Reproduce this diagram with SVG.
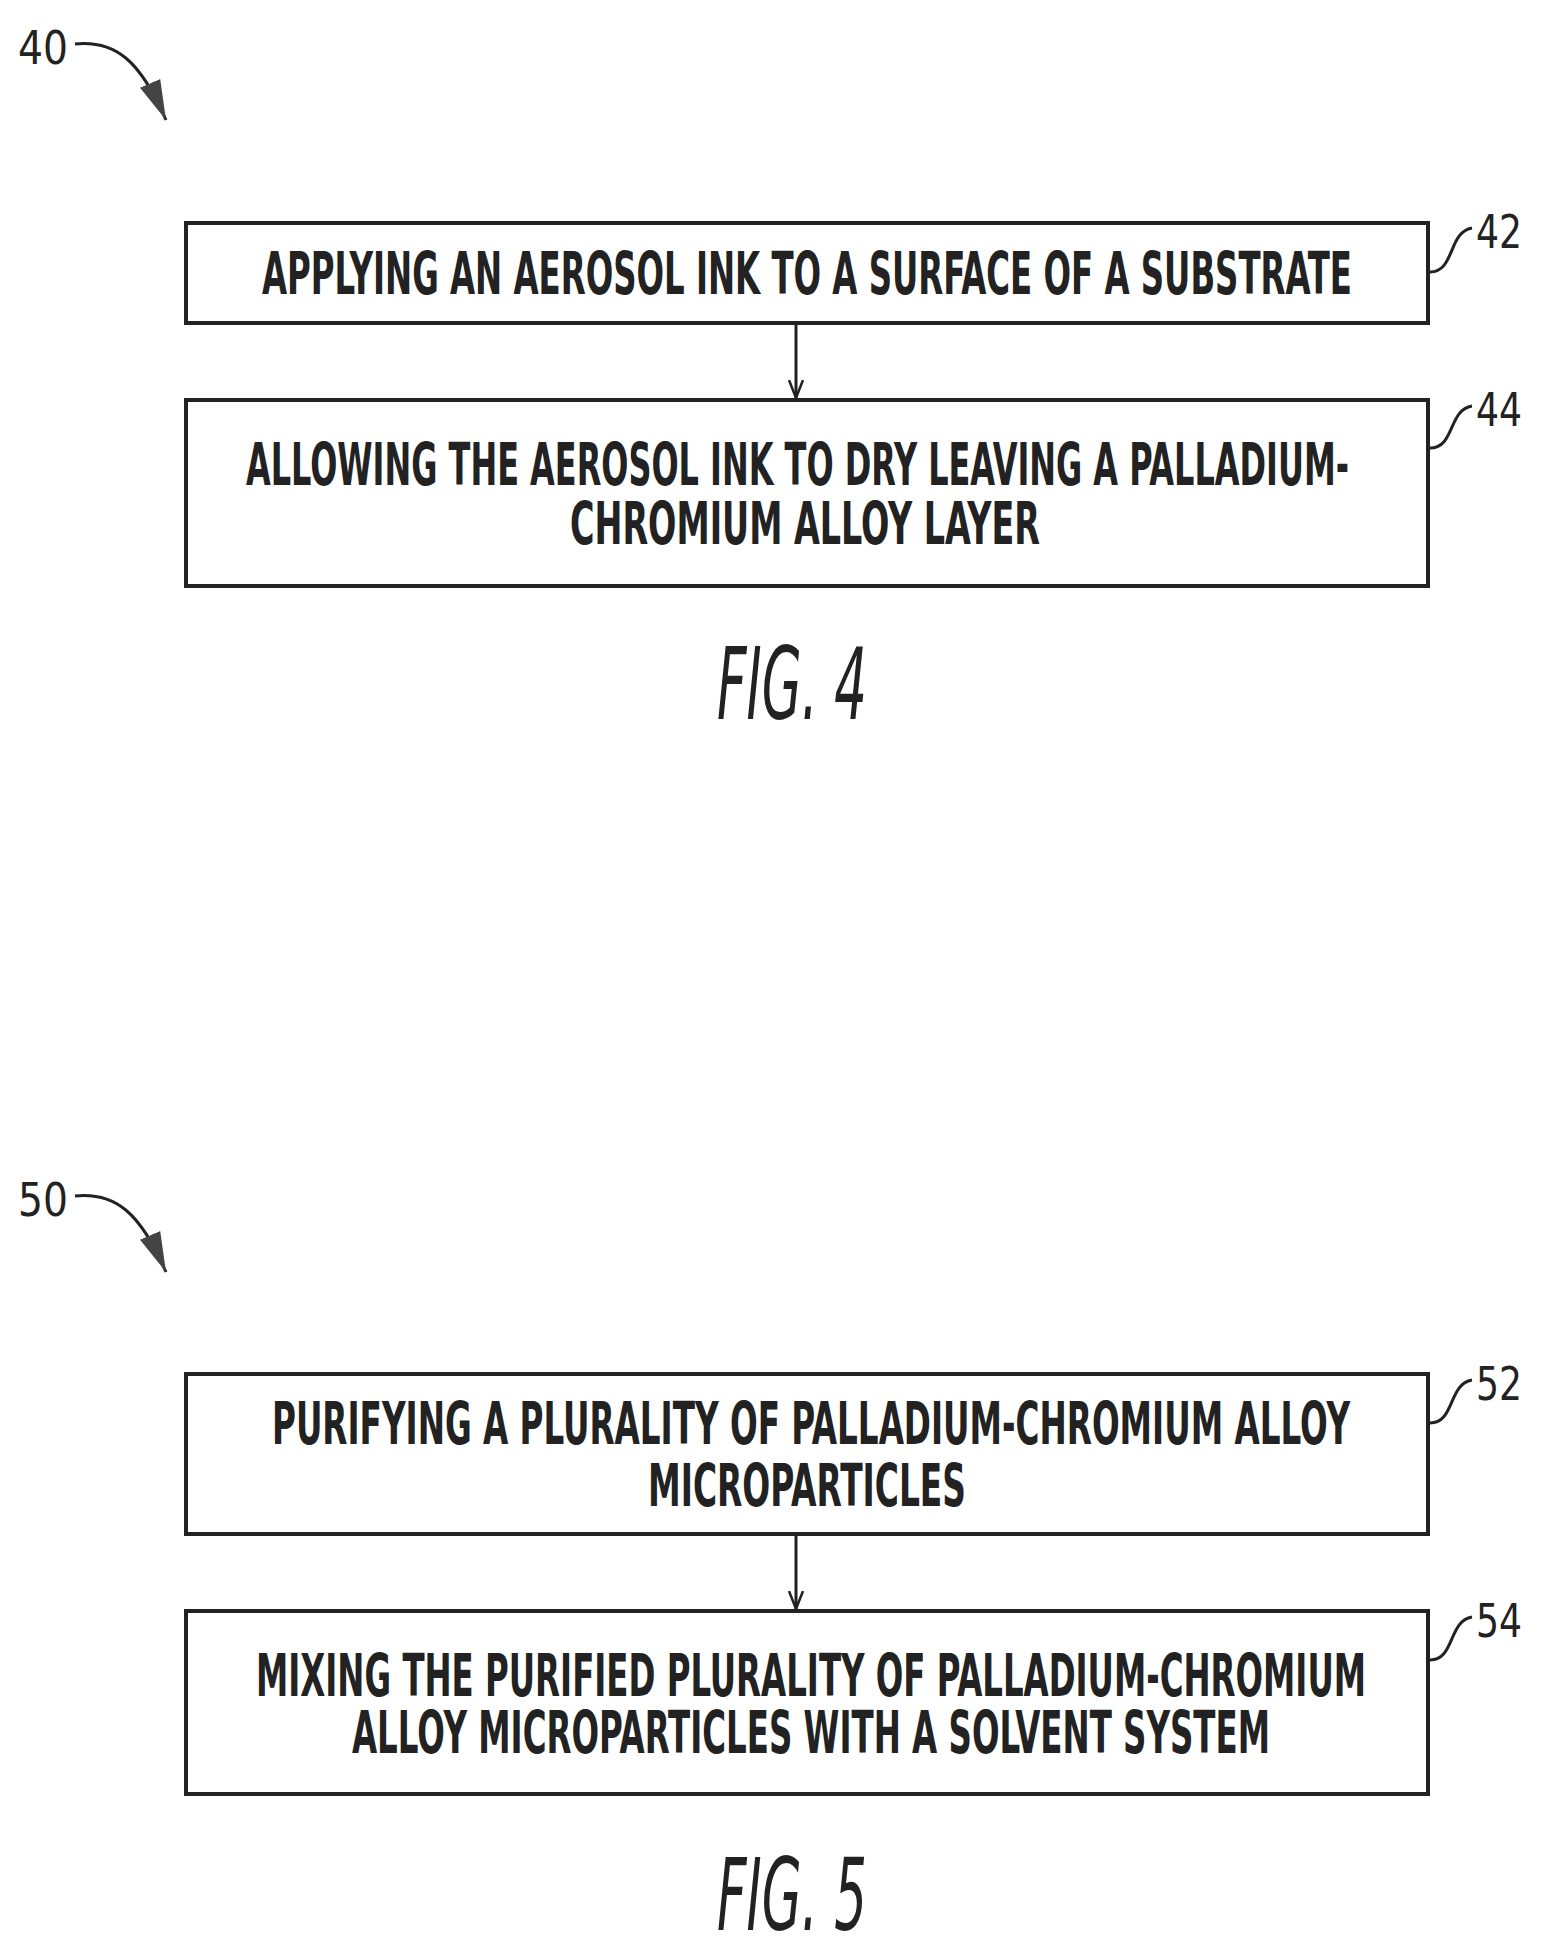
<svg xmlns="http://www.w3.org/2000/svg" width="1546" height="1949" viewBox="0 0 1546 1949">
<style>
.box{fill:none;stroke:#222;stroke-width:4}
.t{font-family:"DejaVu Sans Condensed","DejaVu Sans",sans-serif;font-weight:bold;font-size:58px;fill:#222}
.ref{font-family:"DejaVu Sans Condensed","DejaVu Sans",sans-serif;font-size:46px;fill:#222}
.fig{font-family:"DejaVu Sans Condensed","DejaVu Sans",sans-serif;font-style:italic;font-size:100px;fill:#222}
.ln{fill:none;stroke:#222;stroke-width:3}
</style>
<defs><marker id="ah" markerWidth="18" markerHeight="16" refX="18" refY="8" orient="auto" markerUnits="userSpaceOnUse" viewBox="0 0 18 16"><path d="M0,1 L18,8 L0,15" fill="none" stroke="#222" stroke-width="2.5"/></marker>
<marker id="big" markerWidth="40" markerHeight="28" refX="40" refY="14" orient="auto" markerUnits="userSpaceOnUse" viewBox="0 0 40 28"><path d="M0,3 L40,14 L0,25 Z" fill="#444"/></marker></defs>
<g id="ref40"><text class="ref" x="18" y="64" textLength="50" lengthAdjust="spacingAndGlyphs">40</text><path class="ln" d="M75,44 C115,40 140,60 166,120" marker-end="url(#big)"/></g>
<g id="n42"><rect class="box" x="186" y="223" width="1242" height="100"/><text class="t" x="262" y="294" textLength="1090" lengthAdjust="spacingAndGlyphs">APPLYING AN AEROSOL INK TO A SURFACE OF A SUBSTRATE</text><path class="ln" d="M1430,272 C1455,272 1448,232 1472,228"/><text class="ref" x="1476" y="248" textLength="46" lengthAdjust="spacingAndGlyphs">42</text></g>
<g id="n44"><rect class="box" x="186" y="400" width="1242" height="186"/><text class="t" x="246" y="485" textLength="1103" lengthAdjust="spacingAndGlyphs">ALLOWING THE AEROSOL INK TO DRY LEAVING A PALLADIUM-</text><text class="t" x="570" y="544" textLength="470" lengthAdjust="spacingAndGlyphs">CHROMIUM ALLOY LAYER</text><path class="ln" d="M1430,448 C1455,448 1448,410 1472,406"/><text class="ref" x="1476" y="426" textLength="46" lengthAdjust="spacingAndGlyphs">44</text></g>
<text class="fig" x="717" y="719" textLength="150" lengthAdjust="spacingAndGlyphs">FIG. 4</text>
<g id="ref50"><text class="ref" x="18" y="1216" textLength="50" lengthAdjust="spacingAndGlyphs">50</text><path class="ln" d="M75,1196 C115,1192 140,1212 166,1272" marker-end="url(#big)"/></g>
<g id="n52"><rect class="box" x="186" y="1374" width="1242" height="160"/><text class="t" x="272" y="1444" textLength="1078" lengthAdjust="spacingAndGlyphs">PURIFYING A PLURALITY OF PALLADIUM-CHROMIUM ALLOY</text><text class="t" x="648" y="1506" textLength="318" lengthAdjust="spacingAndGlyphs">MICROPARTICLES</text><path class="ln" d="M1430,1423 C1455,1423 1448,1384 1472,1380"/><text class="ref" x="1476" y="1400" textLength="46" lengthAdjust="spacingAndGlyphs">52</text></g>
<g id="n54"><rect class="box" x="186" y="1611" width="1242" height="183"/><text class="t" x="256" y="1696" textLength="1110" lengthAdjust="spacingAndGlyphs">MIXING THE PURIFIED PLURALITY OF PALLADIUM-CHROMIUM</text><text class="t" x="352" y="1753" textLength="918" lengthAdjust="spacingAndGlyphs">ALLOY MICROPARTICLES WITH A SOLVENT SYSTEM</text><path class="ln" d="M1430,1660 C1455,1660 1448,1621 1472,1617"/><text class="ref" x="1476" y="1637" textLength="46" lengthAdjust="spacingAndGlyphs">54</text></g>
<text class="fig" x="717" y="1930" textLength="150" lengthAdjust="spacingAndGlyphs">FIG. 5</text>
<g id="connectors"><line class="ln" x1="796" y1="325" x2="796" y2="398" marker-end="url(#ah)"/><line class="ln" x1="796" y1="1536" x2="796" y2="1609" marker-end="url(#ah)"/></g>
</svg>
